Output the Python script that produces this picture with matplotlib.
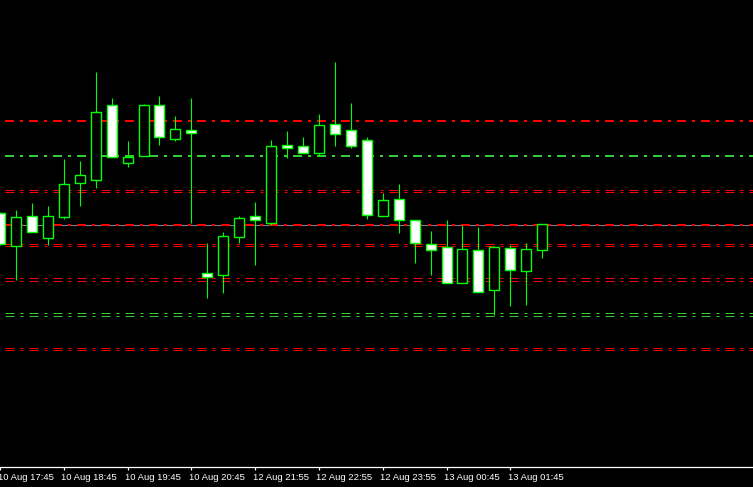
import numpy as np
import matplotlib
matplotlib.use('Agg')
import matplotlib.pyplot as plt

# 15 min candles
opens = [1.52867, 1.52543, 1.52837, 1.52623, 1.52827, 1.53173, 1.53197, 1.53947, 1.53367, 1.53443,
         1.53947, 1.53613, 1.53697, 1.52267, 1.52253, 1.52633, 1.52837, 1.52773, 1.53547, 1.53537,
         1.53473, 1.53757, 1.53697, 1.53597, 1.52837, 1.53007, 1.52797, 1.52557, 1.52527, 1.52167,
         1.52497, 1.52097, 1.52517, 1.52287, 1.52497]
highs = [1.52880, 1.52900, 1.52967, 1.52940, 1.53410, 1.53390, 1.54280, 1.54020, 1.53590, 1.53960,
         1.54040, 1.53840, 1.54020, 1.52570, 1.52677, 1.52840, 1.52980, 1.53600, 1.53690, 1.53630,
         1.53860, 1.54380, 1.53970, 1.53627, 1.53067, 1.53160, 1.52797, 1.52690, 1.52800, 1.52750,
         1.52730, 1.52537, 1.52547, 1.52567, 1.52757]
lows = [1.52550, 1.52200, 1.52683, 1.52550, 1.52813, 1.52943, 1.53123, 1.53427, 1.53333, 1.53443,
        1.53553, 1.53593, 1.52773, 1.52020, 1.52073, 1.52567, 1.52353, 1.52750, 1.53423, 1.53473,
        1.53443, 1.53543, 1.53523, 1.52813, 1.52837, 1.52673, 1.52373, 1.52253, 1.52167, 1.52167,
        1.52077, 1.51847, 1.51937, 1.51947, 1.52423]
closes = [1.52557, 1.52827, 1.52683, 1.52837, 1.53157, 1.53247, 1.53877, 1.53427, 1.53427, 1.53947,
          1.53627, 1.53707, 1.53667, 1.52227, 1.52637, 1.52817, 1.52797, 1.53537, 1.53523, 1.53473,
          1.53747, 1.53663, 1.53543, 1.52847, 1.52997, 1.52797, 1.52567, 1.52497, 1.52167, 1.52507,
          1.52077, 1.52527, 1.52297, 1.52507, 1.52757]

tick_bars = [0, 4, 8, 12, 16, 20, 24, 28, 32]
tick_labels = ['10 Aug 17:45', '10 Aug 18:45', '10 Aug 19:45', '10 Aug 20:45', '12 Aug 21:55',
               '12 Aug 22:55', '12 Aug 23:55', '13 Aug 00:45', '13 Aug 01:45']

# level lines
thick_red = [1.53790, 1.52750]
thick_green = [1.53440]
thin_red = [1.53105, 1.53085, 1.52565, 1.52545, 1.52225, 1.52195, 1.51525, 1.51505]
thin_green = [1.51875, 1.51845]
bid = 1.52755

plt.rcParams['lines.scale_dashes'] = False
plt.rcParams['font.family'] = 'Liberation Sans'

fig = plt.figure(figsize=(7.53, 4.87), dpi=100, facecolor='black')
ax = fig.add_axes([0, 20 / 487, 1, 467 / 487])
ax.set_facecolor('black')

dash = (13.68, (6.48, 4.32, 2.16, 4.32))

ax.axhline(bid, color='#778899', lw=0.72, zorder=1)
for p in thick_red:
    ax.axhline(p, color='#ff0000', lw=1.44, linestyle=dash, zorder=2)
for p in thick_green:
    ax.axhline(p, color='#32cd32', lw=1.44, linestyle=dash, zorder=2)
for p in thin_red:
    ax.axhline(p, color='#ff0000', lw=0.72, linestyle=dash, zorder=2)
for p in thin_green:
    ax.axhline(p, color='#32cd32', lw=0.72, linestyle=dash, zorder=2)

o = np.array(opens)
c = np.array(closes)
x = np.arange(len(o))
ax.vlines(x, lows, highs, color='#00ff00', lw=0.8, zorder=3)
fill = ['white' if oo > cc else 'black' for oo, cc in zip(o, c)]
ax.bar(x, np.maximum(np.abs(c - o), 0.00002), bottom=np.minimum(o, c), width=0.625,
       color=fill, edgecolor='#00ff00', linewidth=1.0, zorder=4)

ax.set_xlim(2.5 / 16, 755.5 / 16)
ax.set_ylim(1.55 - 0.0467, 1.55)

for s in ['top', 'left', 'right']:
    ax.spines[s].set_visible(False)
ax.spines['bottom'].set_color('white')
ax.spines['bottom'].set_linewidth(0.9)
ax.set_yticks([])
ax.set_xticks(tick_bars)
ax.set_xticklabels([])
ax.tick_params(axis='x', colors='white', length=2.2, width=0.9, direction='out')

for b, lab in zip(tick_bars, tick_labels):
    ax.annotate(lab, (b, 0), xycoords=('data', 'axes fraction'), xytext=(-1.8, -4.2),
                textcoords='offset points', ha='left', va='top', color='white',
                fontsize=6.8, annotation_clip=False)

fig.savefig('out.png', dpi=100, facecolor='black')
